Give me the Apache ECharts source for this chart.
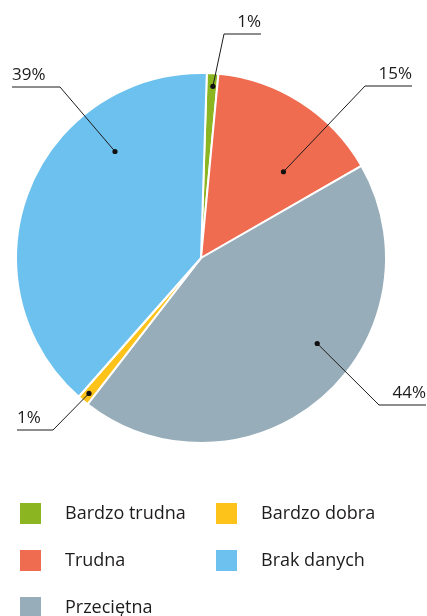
<!DOCTYPE html>
<html>
<head>
<meta charset="utf-8">
<script src="https://cdn.jsdelivr.net/npm/echarts@6/dist/echarts.min.js"></script>
<style>
  html, body { margin: 0; padding: 0; background: #fff; }
  #chart { width: 427px; height: 616px; }
</style>
</head>
<body>
<div id="chart"></div>
<script>
const categories = ['Bardzo trudna', 'Trudna', 'Przeciętna', 'Bardzo dobra', 'Brak danych']
const values = [1, 15.2, 43.8, 1, 39]
const colors = ['#8bb521', '#ef6c50', '#97adb9', '#fdc31a', '#6dc1ee']
const legendLeft = ['Bardzo trudna', 'Trudna', 'Przeciętna']
const legendRight = ['Bardzo dobra', 'Brak danych']

// odnośniki: kropka w wycinku (część kąta, część promienia), załamanie i koniec półki
const leaders = [
  { at: 0.6, r: 0.93, knee: [224, 34], end: 261 },
  { at: 0.7, r: 0.645, knee: [365, 86], end: 412 },
  { at: 0.42, r: 0.78, knee: [379, 405], end: 426 },
  { at: 0.5, r: 0.95, knee: [53, 430], end: 17 },
  { at: 0.71, r: 0.74, knee: [60, 87], end: 12 }
]

const font = "'Open Sans', 'Noto Sans', sans-serif"
const chart = echarts.init(document.getElementById('chart'))

const legendBase = {
  orient: 'vertical',
  top: 501,
  height: 200,
  padding: 0,
  itemWidth: 23,
  itemHeight: 23,
  itemGap: 22,
  icon: 'rect',
  selectedMode: false,
  textStyle: {
    fontFamily: font,
    fontSize: 18,
    color: '#1e1b1c',
    padding: [7, 0, 0, 18]
  }
}

const option = {
  animation: false,
  color: colors,
  legend: [
    { ...legendBase, left: 18, data: legendLeft },
    { ...legendBase, left: 214, data: legendRight }
  ],
  series: [
    {
      type: 'pie',
      center: [201, 258],
      radius: 185,
      startAngle: 88.2,
      clockwise: true,
      avoidLabelOverlap: false,
      itemStyle: { borderColor: '#fff', borderWidth: 2 },
      label: {
        show: true,
        position: 'outside',
        fontFamily: font,
        fontSize: 17,
        color: '#1e1b1c',
        formatter: p => Math.round(p.value) + '%'
      },
      labelLine: { show: false },
      labelLayout: p => {
        const l = leaders[p.dataIndex]
        return {
          x: l.end,
          y: l.knee[1] - 3,
          align: l.end > l.knee[0] ? 'right' : 'left',
          verticalAlign: 'bottom'
        }
      },
      data: categories.map((name, i) => ({ name, value: values[i] }))
    }
  ]
}

chart.setOption(option)

// linie odnośników liczone z układu wycinków
const data = chart.getModel().getSeriesByIndex(0).getData()
const graphics = []
leaders.forEach((l, i) => {
  const lay = data.getItemLayout(i)
  const a = lay.startAngle + l.at * (lay.endAngle - lay.startAngle)
  const dot = [lay.cx + Math.cos(a) * lay.r * l.r, lay.cy + Math.sin(a) * lay.r * l.r]
  graphics.push({
    type: 'polyline',
    shape: { points: [dot, l.knee, [l.end, l.knee[1]]] },
    style: { stroke: '#1e1b1c', lineWidth: 1, fill: null },
    z: 10
  })
  graphics.push({
    type: 'circle',
    shape: { cx: dot[0], cy: dot[1], r: 2.6 },
    style: { fill: '#111' },
    z: 11
  })
})
chart.setOption({ graphic: graphics })
</script>
</body>
</html>
